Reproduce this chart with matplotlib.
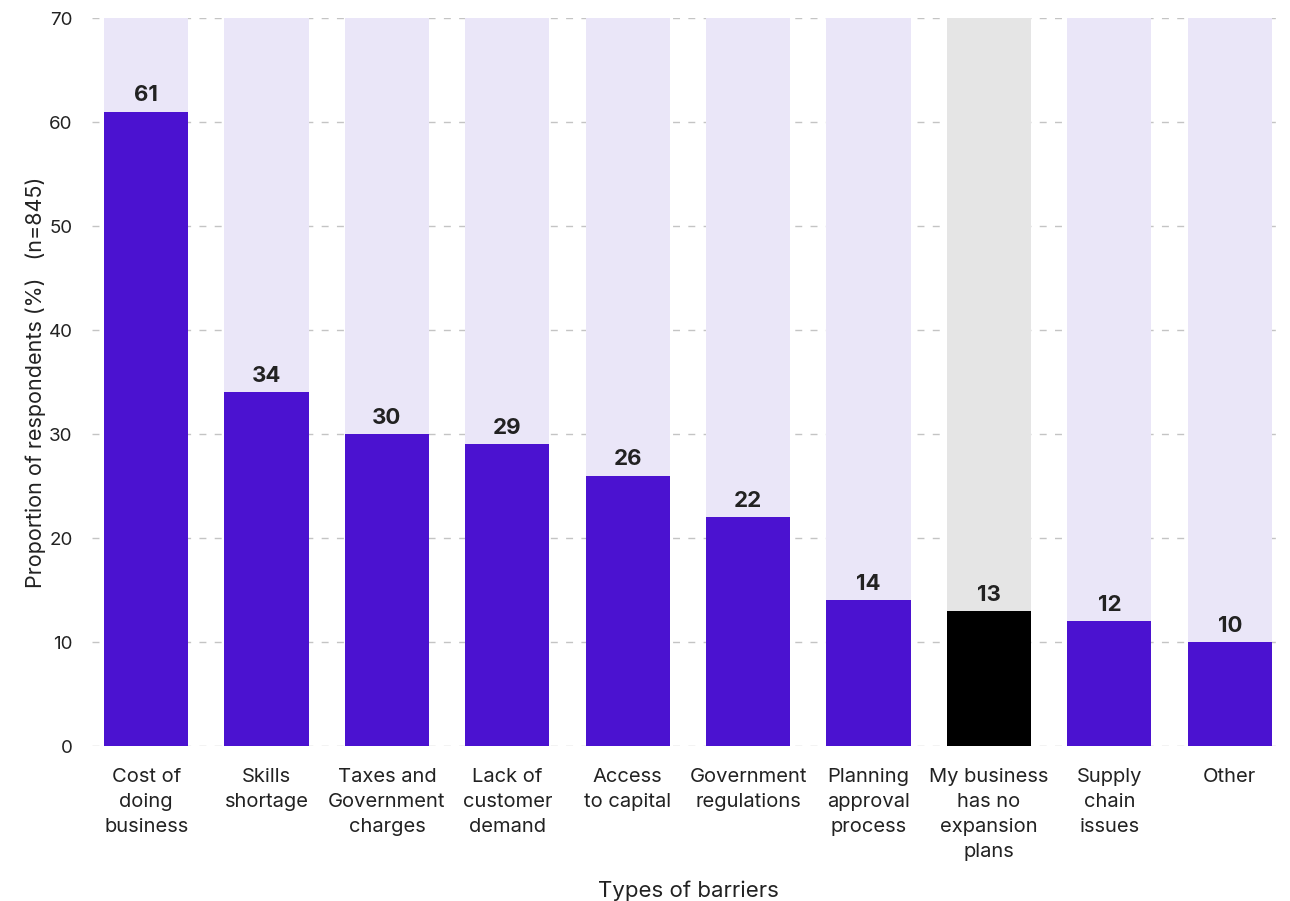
import matplotlib.pyplot as plt

plt.rcParams['font.family'] = ['Inter', 'DejaVu Sans']

barriers = ['Cost of\ndoing\nbusiness', 'Skills\nshortage', 'Taxes and\nGovernment\ncharges',
            'Lack of\ncustomer\ndemand', 'Access\nto capital', 'Government\nregulations',
            'Planning\napproval\nprocess', 'My business\nhas no\nexpansion\nplans',
            'Supply\nchain\nissues', 'Other']
share = [61, 34, 30, 29, 26, 22, 14, 13, 12, 10]
scale_max = 70

purple = '#4B12D0'
lavender = '#EAE6F8'

fig = plt.figure(figsize=(12.9, 9.01), dpi=100)
ax = fig.add_axes([0.0713, 0.172, 0.924, 0.808])

x = range(len(barriers))
# the "no expansion plans" answer is drawn in black on a grey track
fg = ['black' if 'expansion' in b else purple for b in barriers]
bg = ['#E5E5E5' if 'expansion' in b else lavender for b in barriers]

ax.bar(x, [scale_max] * len(barriers), width=0.7, color=bg, zorder=2)
ax.bar(x, share, width=0.7, color=fg, zorder=3)

for i, v in enumerate(share):
    ax.text(i, v + 0.6, str(v), ha='center', va='bottom', fontsize=16,
            fontweight='bold', color='#222222', zorder=4)

ax.set_xlim(-0.45, 9.45)
ax.set_ylim(0, 70)
ax.set_yticks(range(0, 71, 10))
ax.set_xticks(list(x))
ax.set_xticklabels(barriers, fontsize=14.5, color='#222222', linespacing=1.5)
ax.tick_params(axis='both', length=0)
ax.tick_params(axis='y', labelsize=13.5, colors='#222222', pad=14)
ax.tick_params(axis='x', pad=16)

ax.grid(axis='y', linestyle=(0, (5, 6)), color='#c4c4c4', linewidth=1, zorder=1)
ax.set_axisbelow(True)
for s in ax.spines.values():
    s.set_visible(False)

ax.set_ylabel('Proportion of respondents (%)   (n=845)', fontsize=15.5, color='#222222', labelpad=2)
ax.set_xlabel('Types of barriers', fontsize=16, color='#222222', labelpad=14)

fig.savefig('out.png', dpi=100)
